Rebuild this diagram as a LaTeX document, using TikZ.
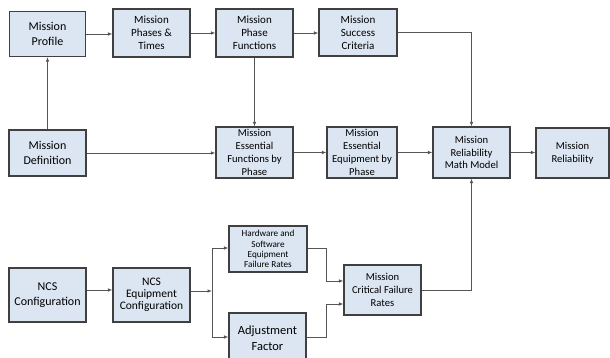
\documentclass[tikz,border=0pt]{standalone}
\usepackage{fontspec}
\setmainfont{Carlito}
\usetikzlibrary{arrows.meta}
\definecolor{boxfill}{HTML}{DCE6F2}
\definecolor{boxline}{HTML}{404040}
\definecolor{wire}{HTML}{555555}
\tikzset{
  blk/.style={draw=boxline, fill=boxfill, line width=1.1pt, align=center,
    inner sep=0pt, minimum width=77pt, minimum height=48pt,
    font=\fontsize{11}{13}\selectfont},
  big/.style={font=\fontsize{12}{15}\selectfont},
  small/.style={font=\fontsize{9.2}{10.2}\selectfont},
  mid/.style={font=\fontsize{10.6}{12.8}\selectfont},
  arr/.style={draw=wire, line width=0.8pt, -{Latex[length=4.5pt,width=3.6pt]}},
  ln/.style={draw=wire, line width=0.8pt},
}
\begin{document}
\begin{tikzpicture}[x=1pt, y=-1pt]
\useasboundingbox (0,0) rectangle (610,358);
\begin{scope}
\clip (0,0) rectangle (610,358);
% top row
\node[blk, big, minimum width=76pt, minimum height=45pt] (prof) at (47.5,34) {Mission\\Profile};
\node[blk] (phases) at (151.5,33) {Mission\\Phases \&\\Times};
\node[blk] (pfunc) at (254.5,33) {Mission\\Phase\\Functions};
\node[blk, minimum width=78pt, minimum height=47pt] (succ) at (358,32.5) {Mission\\Success\\Criteria};
% middle row
\node[blk, big, minimum height=46pt] (mdef) at (47.5,153) {Mission\\Definition};
\node[blk, mid, minimum height=51pt] (efunc) at (254.5,152.5) {Mission\\Essential\\Functions by\\Phase};
\node[blk, mid, minimum width=70pt, minimum height=51pt] (eequip) at (362,152.5) {Mission\\Essential\\Equipment by\\Phase};
\node[blk, mid, minimum height=51pt] (model) at (471.5,152.5) {Mission\\Reliability\\Math Model};
\node[blk, mid, minimum width=73pt, minimum height=50pt] (rel) at (572.5,153) {Mission\\Reliability};
% bottom rows
\node[blk, big, minimum height=54pt] (ncs) at (47.5,295) {NCS\\Configuration};
\node[blk, big, font=\fontsize{11.5}{12}\selectfont, minimum height=54pt] (ncseq) at (151.5,295) {NCS\\Equipment\\Configuration};
\node[blk, small, minimum width=78pt, minimum height=46pt] (hw) at (268,249) {Hardware and\\Software\\Equipment\\Failure Rates};
\node[blk, font=\fontsize{12.5}{15.5}\selectfont, minimum height=50pt] (adj) at (267.5,338) {Adjustment\\Factor};
\node[blk, mid, minimum height=50pt] (crit) at (382.5,290) {Mission\\Critical Failure\\Rates};
\coordinate (jn) at (212,291);
% connectors
\draw[arr] (prof.east) -- (phases.west |- prof.east);
\draw[arr] (phases) -- (pfunc);
\draw[arr] (pfunc) -- (succ.west |- pfunc.east);
\draw[arr] (mdef.north) -- (prof.south);
\draw[arr] (pfunc.south) -- (efunc.north);
\draw[arr] (succ.east) -| (model.north);
\draw[arr] (mdef.east) -- (efunc.west |- mdef.east);
\draw[arr] (efunc) -- (eequip);
\draw[arr] (eequip) -- (model);
\draw[arr] (model.east) -- (rel.west |- model.east);
\draw[arr] (ncs.east |- 0,290) -- (ncseq.west |- 0,290);
\draw[arr] (ncseq.east |- jn) -- (jn);
\draw[arr] (jn) |- ([yshift=1pt]hw.west);
\draw[arr] (jn) |- ([yshift=1pt]adj.west);
\draw[arr] ([yshift=1pt]hw.east) -- ++(19,0) |- ([yshift=9pt]crit.west);
\draw[arr] ([yshift=1pt]adj.east) -- ++(20,0) |- ([yshift=-14pt]crit.west);
\draw[arr] (crit.east) -| (model.south);
\end{scope}
\end{tikzpicture}
\end{document}
